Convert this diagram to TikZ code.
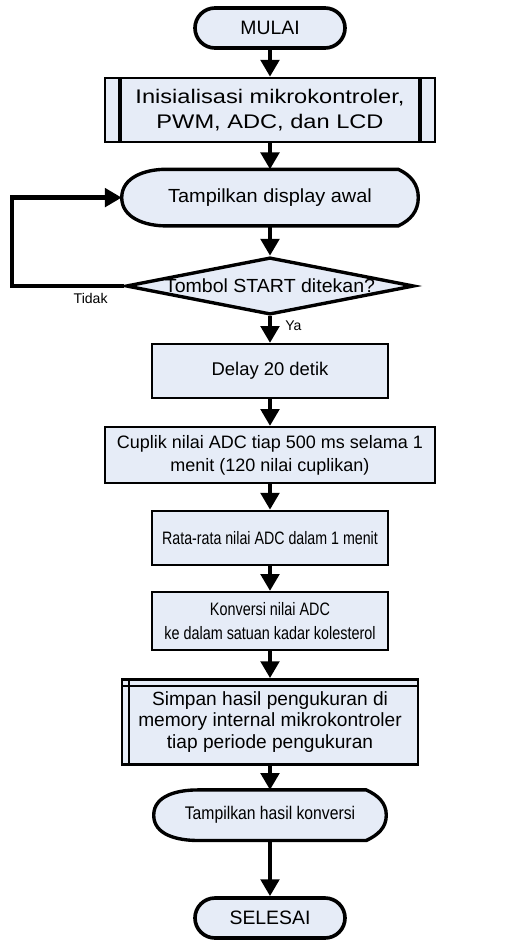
\documentclass[tikz,border=0pt]{standalone}
\usepackage{fontspec}
\setmainfont{Liberation Sans}
\usetikzlibrary{arrows.meta,shapes.geometric,backgrounds}

\definecolor{boxblue}{RGB}{230,236,247}

\newcommand{\fs}[2]{\fontsize{#1}{#2}\selectfont}
% same face, set wider or narrower
\newcommand{\sfont}[3]{\fontspec{Liberation Sans}[FakeStretch=#1]\fontsize{#2}{#3}\selectfont}

% display symbol drawn round a named node
\newcommand{\drawdisplay}[1]{%
  \begin{scope}[on background layer]
    \filldraw[line width=2.4pt, fill=boxblue]
      ([xshift=1.1cm]#1.north west) -- ([xshift=-0.5cm]#1.north east)
      to[out=-25,in=90] (#1.east) to[out=-90,in=25] ([xshift=-0.5cm]#1.south east)
      -- ([xshift=1.1cm]#1.south west) to[out=180,in=-90] (#1.west)
      to[out=90,in=180] cycle;
  \end{scope}}

\begin{document}
\begin{tikzpicture}[
    font=\fs{13.5}{16},
    terminal/.style={draw, line width=2.6pt, fill=boxblue, rounded corners=0.5cm,
        minimum width=3.75cm, minimum height=1cm, font=\fs{13.8}{16}},
    process/.style={draw, line width=1.8pt, fill=boxblue, align=center,
        minimum width=5.9cm, minimum height=1.35cm, inner sep=2pt},
    predef/.style={process, path picture={
        \draw[line width=2.6pt] ([xshift=0.37cm]path picture bounding box.north west)
            -- ([xshift=0.37cm]path picture bounding box.south west);
        \draw[line width=2.6pt] ([xshift=-0.37cm]path picture bounding box.north east)
            -- ([xshift=-0.37cm]path picture bounding box.south east);}},
    storage/.style={process, path picture={
        \draw[line width=1.8pt] ([yshift=-0.17cm]path picture bounding box.north west)
            -- ([yshift=-0.17cm]path picture bounding box.north east);
        \draw[line width=1.8pt] ([xshift=0.18cm]path picture bounding box.north west)
            -- ([xshift=0.18cm]path picture bounding box.south west);}},
    display/.style={align=center, inner sep=0pt},
    decision/.style={diamond, draw, line width=2.4pt, fill=boxblue, inner sep=0pt,
        aspect=5, minimum width=7.2cm, minimum height=1.43cm},
    flow/.style={-{Triangle[length=12pt,width=13pt]}, line width=3.2pt},
    small/.style={font=\fs{10}{12}}
]

    \useasboundingbox (0,0) rectangle (13,-23.5);

    % Start
    \node[terminal] (mulai) at (6.75,-0.7) {MULAI};

    % Init
    \node[predef, minimum width=8.25cm, minimum height=1.6cm, font=\sfont{1.2}{14}{17.7}]
        (init) at (6.75,-2.75) {Inisialisasi mikrokontroler,\\PWM, ADC, dan LCD};

    % First display
    \node[display, minimum width=7.4cm, minimum height=1.4cm, font=\sfont{1.05}{13.5}{16}]
        (disp) at (6.75,-4.94) {Tampilkan display awal};
    \drawdisplay{disp}

    % Start button
    \node[decision, font=\sfont{1.03}{13.5}{16}] (tombol) at (6.75,-7.15)
        {\makebox[0pt]{Tombol START ditekan?}};
    \coordinate (loopx) at (0.3,0);

    % Processing
    \node[process, font=\fs{13.1}{16}] (delay) at (6.75,-9.28) {Delay 20 detik};
    \node[process, minimum width=8.25cm, minimum height=1.4cm, font=\fs{12.8}{16.3}]
        (cuplik) at (6.75,-11.38)
        {Cuplik nilai ADC tiap 500 ms selama 1\\menit (120 nilai cuplikan)};
    \node[process, font=\sfont{0.79}{12.8}{14}] (rata) at (6.75,-13.45)
        {Rata-rata nilai ADC dalam 1 menit};
    \node[process, minimum height=1.45cm, font=\sfont{0.8}{12.8}{17}]
        (konversi) at (6.75,-15.53)
        {Konversi nilai ADC\\ke dalam satuan kadar kolesterol};

    % Storage
    \node[storage, minimum width=7.4cm, minimum height=2.13cm, font=\fs{13.6}{15}]
        (simpan) at (6.75,-18.05)
        {Simpan hasil pengukuran di\\memory internal mikrokontroler\\tiap periode pengukuran};

    % Result display
    \node[display, minimum width=5.8cm, minimum height=1.25cm,
        font=\sfont{0.86}{13}{14}]
        (hasil) at (6.75,-20.38) {Tampilkan hasil konversi};
    \drawdisplay{hasil}

    % End
    \node[terminal] (selesai) at (6.75,-22.95) {SELESAI};

    % Connectors
    \draw[flow] (mulai) -- (init);
    \draw[flow] (init) -- (disp);
    \draw[flow] (disp) -- (tombol);
    \draw[flow] (tombol.west) -- node[small, below, pos=0.3] {Tidak}
        (tombol.west -| loopx) |- (disp.west);
    \draw[flow] (tombol.south) -- node[small, right, pos=0.35, xshift=6pt] {Ya} (delay);
    \draw[flow] (delay) -- (cuplik);
    \draw[flow] (cuplik) -- (rata);
    \draw[flow] (rata) -- (konversi);
    \draw[flow] (konversi) -- (simpan);
    \draw[flow] (simpan) -- (hasil);
    \draw[flow] (hasil) -- (selesai);

\end{tikzpicture}
\end{document}
